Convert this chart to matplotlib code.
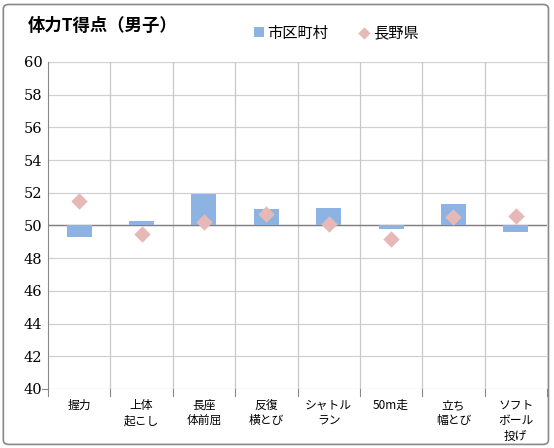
import numpy as np
import matplotlib.pyplot as plt
from matplotlib.patches import FancyBboxPatch

plt.rcParams['font.family'] = ['Noto Sans CJK JP', 'DejaVu Sans']

categories = ['握力', '上体\n起こし', '長座\n体前屈', '反復\n横とび', 'シャトル\nラン',
              '50m走', '立ち\n幅とび', 'ソフト\nボール\n投げ']
city = [49.3, 50.3, 51.9, 51.0, 51.1, 49.8, 51.3, 49.6]
pref = [51.5, 49.45, 50.2, 50.7, 50.1, 49.15, 50.5, 50.6]
base = 50

fig = plt.figure(figsize=(5.54, 4.48), dpi=100)
border = FancyBboxPatch((0.006, 0.008), 0.984, 0.982, boxstyle='round,pad=0,rounding_size=0.01',
                        transform=fig.transFigure, fill=False, edgecolor='#888888', linewidth=1.2)
fig.patches.append(border)

ax = fig.add_axes([48 / 554, 59 / 448, 499 / 554, 327 / 448])
x = np.arange(len(categories))
heights = [v - base for v in city]
bars = ax.bar(x, heights, bottom=base, width=0.4, color='#8DB3E2', label='市区町村', zorder=3)
pts = ax.scatter(x, pref, marker='D', s=70, color='#E6B9B8', label='長野県', zorder=4, linewidths=0)

ax.set_xlim(-0.5, len(categories) - 0.5)
ax.set_ylim(40, 60)
ax.set_yticks(range(40, 61, 2))
ax.set_yticklabels([str(v) for v in range(40, 61, 2)], family='DejaVu Serif', fontsize=10.5)
ax.set_xticks(x)
ax.set_xticklabels(categories, fontsize=8.5, va='top', linespacing=1.25)
ax.tick_params(axis='x', length=0, pad=7)
ax.tick_params(axis='y', length=0, pad=4)

for y in range(40, 61, 2):
    ax.axhline(y, color='#D0D0D0', linewidth=0.9, zorder=1)
for b in np.arange(0.5, len(categories) - 0.5, 1):
    ax.axvline(b, color='#C8C8C8', linewidth=0.9, zorder=1)
ax.axhline(base, color='#808080', linewidth=1.0, zorder=2)

for s in ['top', 'right', 'bottom']:
    ax.spines[s].set_visible(False)
ax.spines['left'].set_color('#888888')

# short marks under the plot between categories
for b in np.arange(-0.5, len(categories), 1):
    ax.plot([b, b], [40, 39.6], color='#888888', linewidth=0.8, clip_on=False)
ax.plot([-0.6, -0.5], [40, 40], color='#888888', linewidth=0.8, clip_on=False)

fig.text(28 / 554, 1 - 26 / 448, '体力T得点（男子）', fontsize=12.5, fontweight='bold', va='center')
leg = fig.legend([bars, pts], ['市区町村', '長野県'], loc='center left',
                 bbox_to_anchor=(240 / 554, 1 - 33 / 448), ncol=2, frameon=False, fontsize=11,
                 handlelength=0.7, handletextpad=0.2, columnspacing=2.0, markerscale=0.75)

fig.savefig('out.png', dpi=100)
